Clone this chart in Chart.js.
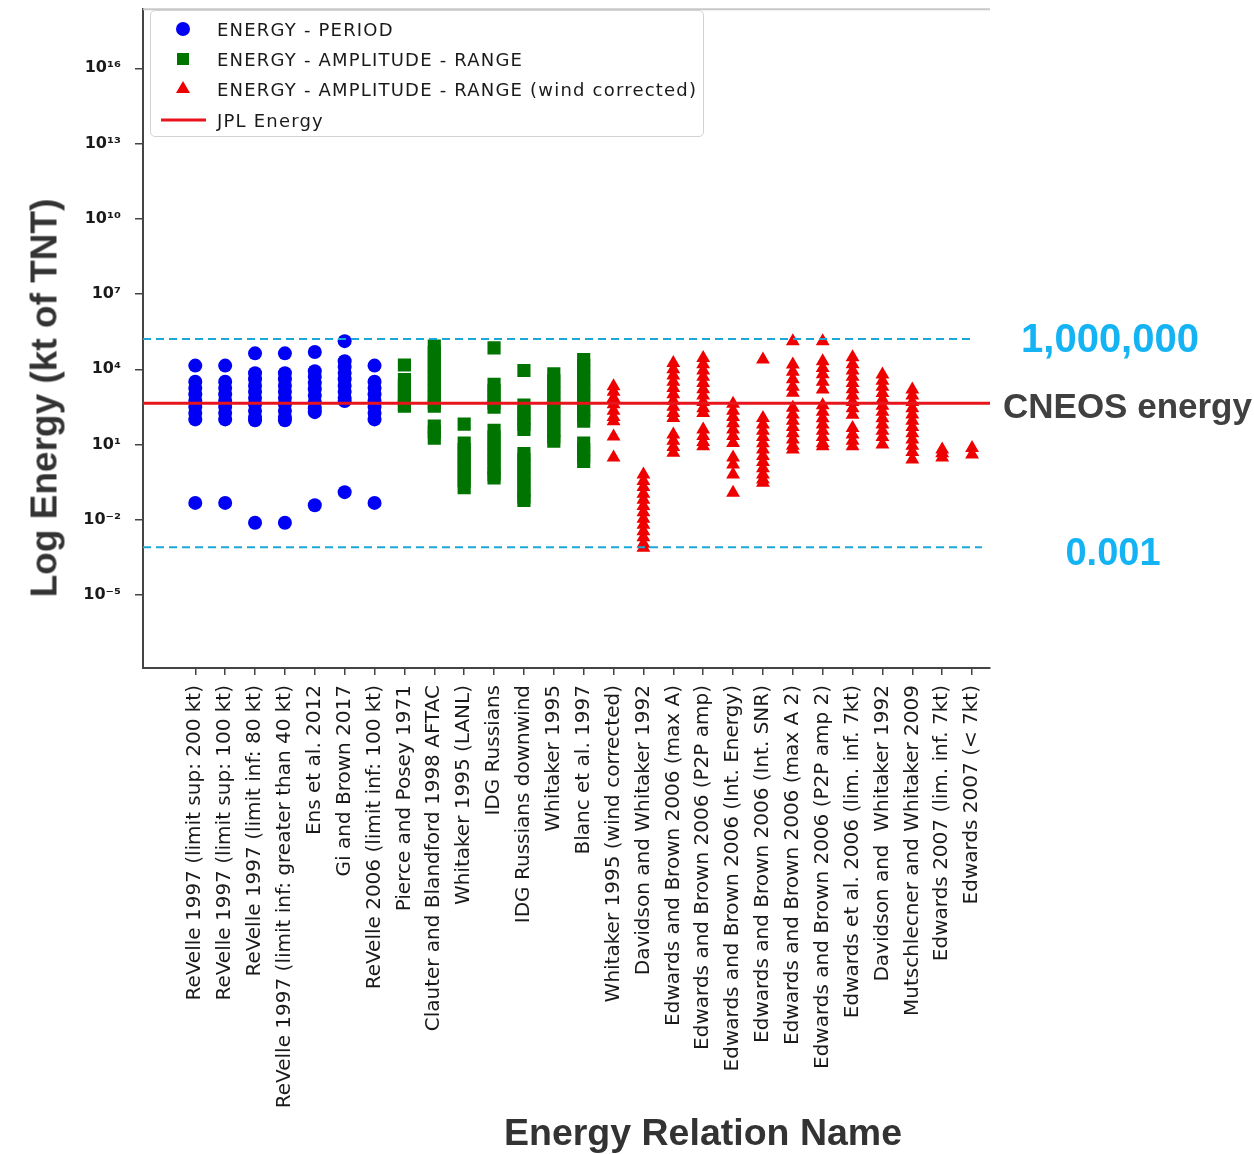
<!DOCTYPE html>
<html><head><meta charset="utf-8">
<script src="https://cdn.jsdelivr.net/npm/chart.js@4/dist/chart.umd.min.js"></script>
<style>
html,body{margin:0;padding:0;background:#fff;}
#wrap{position:relative;width:1254px;height:1154px;overflow:hidden;background:#fff;}
#c{position:absolute;left:0;top:0;}
.txt{position:absolute;white-space:nowrap;font-family:'Liberation Sans',Arial,sans-serif;font-weight:bold;line-height:1;}
#legend{position:absolute;left:150px;top:10px;width:554px;height:127px;border:1.5px solid #d2d2d2;border-radius:5px;background:rgba(255,255,255,0.92);font-family:'DejaVu Sans',sans-serif;font-size:18px;letter-spacing:1.2px;color:#1a1a1a;box-sizing:border-box;}
.li{position:absolute;left:0;height:30px;display:flex;align-items:center;white-space:nowrap;}
.li svg{width:60px;height:30px;flex:none;margin-left:6px;}
</style></head>
<body><div id="wrap"><canvas id="c" width="1254" height="1154"></canvas>
<div id="legend"></div>
<div class="txt" id="ytitle" style="left:44px;top:398px;font-size:37px;color:#333;transform:translate(-50%,-50%) rotate(-90deg);">Log Energy (kt of TNT)</div>
<div class="txt" id="xtitle" style="left:703px;top:1133px;font-size:37.5px;color:#333;transform:translate(-50%,-50%);">Energy Relation Name</div>
<div class="txt" id="a1" style="left:1110px;top:338px;font-size:40px;color:#14b4f4;transform:translate(-50%,-50%);">1,000,000</div>
<div class="txt" id="a2" style="left:1003px;top:405px;font-size:35px;color:#404040;transform:translate(0,-50%);">CNEOS energy</div>
<div class="txt" id="a3" style="left:1113px;top:552px;font-size:38px;color:#14b4f4;transform:translate(-50%,-50%);">0.001</div>
</div>
<script>
const categories = [
  'ReVelle 1997 (limit sup: 200 kt)',
  'ReVelle 1997 (limit sup: 100 kt)',
  'ReVelle 1997 (limit inf: 80 kt)',
  'ReVelle 1997 (limit inf: greater than 40 kt)',
  'Ens et al. 2012',
  'Gi and Brown 2017',
  'ReVelle 2006 (limit inf: 100 kt)',
  'Pierce and Posey 1971',
  'Clauter and Blandford 1998 AFTAC',
  'Whitaker 1995 (LANL)',
  'IDG Russians',
  'IDG Russians downwind',
  'Whitaker 1995',
  'Blanc et al. 1997',
  'Whitaker 1995 (wind corrected)',
  'Davidson and Whitaker 1992',
  'Edwards and Brown 2006 (max A)',
  'Edwards and Brown 2006 (P2P amp)',
  'Edwards and Brown 2006 (Int. Energy)',
  'Edwards and Brown 2006 (Int. SNR)',
  'Edwards and Brown 2006 (max A 2)',
  'Edwards and Brown 2006 (P2P amp 2)',
  'Edwards et al. 2006 (lim. inf. 7kt)',
  'Davidson and  Whitaker 1992',
  'Mutschlecner and Whitaker 2009',
  'Edwards 2007 (lim. inf. 7kt)',
  'Edwards 2007 (< 7kt)'
];

const seriesNames = ['ENERGY - PERIOD', 'ENERGY - AMPLITUDE - RANGE', 'ENERGY - AMPLITUDE - RANGE (wind corrected)', 'JPL Energy'];

// Energy (kt of TNT) per relation, ENERGY - PERIOD (blue circles)
const periodValues = [
  [14000, 3200, 1800, 1000, 560, 320, 180, 100, 0.047],
  [14000, 3200, 1800, 1000, 560, 320, 180, 100, 0.047],
  [43000, 6900, 4000, 2200, 1260, 710, 400, 220, 126, 93, 0.0076],
  [43000, 6900, 4000, 2200, 1260, 710, 400, 220, 126, 93, 0.0076],
  [49000, 8300, 5000, 2800, 1600, 890, 500, 280, 195, 0.038],
  [132000, 21000, 12600, 7100, 4000, 2200, 1260, 710, 540, 0.126],
  [14000, 3200, 1800, 1000, 560, 320, 180, 100, 0.047]
];

// ENERGY - AMPLITUDE - RANGE (green squares)
const amplitudeValues = [
  [14800, 3900, 2200, 1260, 710, 400, 340],
  [83000, 46000, 25000, 14000, 7900, 4500, 2500, 1400, 790, 450, 340, 54, 32, 18],
  [65, 11.5, 6.3, 3.5, 2.0, 1.12, 0.63, 0.35, 0.19],
  [71000, 2500, 1400, 790, 450, 310, 37, 20, 11.2, 6.3, 3.5, 2.0, 1.12, 0.63, 0.47],
  [8900, 370, 200, 112, 63, 40, 4.3, 2.5, 1.41, 0.79, 0.45, 0.25, 0.14, 0.079, 0.059],
  [6500, 3500, 2000, 1120, 630, 350, 200, 112, 63, 35, 20, 13.5],
  [24500, 14000, 7900, 4500, 2500, 1400, 790, 450, 250, 140, 85, 11.5, 6.3, 3.5, 2.1]
];

// ENERGY - AMPLITUDE - RANGE (wind corrected) (red triangles)
const windCorrectedValues = [
  [2100, 1260, 710, 400, 220, 126, 85, 21, 3.0],
  [0.63, 0.35, 0.2, 0.11, 0.063, 0.035, 0.02, 0.011, 0.0063, 0.0035, 0.002, 0.0011, 0.00076],
  [17800, 10000, 5600, 3200, 1800, 1000, 560, 320, 180, 115, 25, 14, 7.9, 4.7],
  [28000, 15800, 8900, 5000, 2800, 1600, 890, 500, 280, 180, 40, 22, 12.6, 8.5],
  [420, 220, 126, 71, 40, 22, 11.5, 3.0, 1.58, 0.63, 0.12],
  [24500, 115, 63, 35, 20, 11.2, 6.3, 3.5, 2.0, 1.12, 0.63, 0.4, 0.3],
  [132000, 15500, 7900, 4000, 2000, 1150, 290, 158, 89, 50, 28, 15.8, 8.9, 6.3],
  [132000, 21000, 11200, 6300, 3200, 1550, 370, 200, 112, 63, 35, 20, 11.2, 8.5],
  [30000, 15800, 8900, 5000, 2800, 1600, 890, 500, 280, 155, 46, 25, 14, 8.5],
  [6200, 3500, 2000, 1120, 630, 350, 200, 112, 63, 35, 20, 10],
  [1550, 890, 500, 280, 158, 89, 50, 28, 15.8, 8.9, 5.0, 2.5],
  [6.3, 4.5, 3.0],
  [7.2, 4.0]
];

const jplEnergy = 440;          // red line (CNEOS energy)
const upperMarker = 1.6e5;      // dashed line annotated "1,000,000"
const lowerMarker = 8.1e-4;     // dashed line annotated "0.001"
const yTickValues = [1e-5, 1e-2, 1e1, 1e4, 1e7, 1e10, 1e13, 1e16];
const yTickLabels = ['10⁻⁵', '10⁻²', '10¹', '10⁴', '10⁷', '10¹⁰', '10¹³', '10¹⁶'];
const yMin = 1.23e-8, yMax = 2.24e18;

const colors = {period: '#0000f5', amp: '#007400', wind: '#ee0000', jpl: '#e8141c', dash: '#1aa8d6'};

function toPoints(groups, startIndex) {
  const pts = [];
  groups.forEach((vals, gi) => vals.forEach(v => pts.push({x: startIndex + gi, y: v})));
  return pts;
}
const ampStart = periodValues.length;
const windStart = ampStart + amplitudeValues.length;
const xMin = -1.75, xMax = 26.6;

const datasets = [
  {label: seriesNames[0], type: 'scatter', data: toPoints(periodValues, 0), pointStyle: 'circle', pointRadius: 7,
   backgroundColor: colors.period, borderColor: colors.period, borderWidth: 0, order: 3},
  {label: seriesNames[1], type: 'scatter', data: toPoints(amplitudeValues, ampStart), pointStyle: 'rect', pointRadius: 9.3,
   backgroundColor: colors.amp, borderColor: colors.amp, borderWidth: 0, order: 2},
  {label: seriesNames[2], type: 'scatter', data: toPoints(windCorrectedValues, windStart), pointStyle: 'triangle', pointRadius: 8,
   backgroundColor: colors.wind, borderColor: colors.wind, borderWidth: 0, order: 1},
  {label: seriesNames[3], type: 'line', data: [{x: xMin, y: jplEnergy}, {x: xMax, y: jplEnergy}],
   borderColor: colors.jpl, borderWidth: 3, pointRadius: 0, fill: false, order: -1},
  {label: 'upper', type: 'line', data: [{x: xMin, y: upperMarker}, {x: categories.length - 1, y: upperMarker}],
   borderColor: colors.dash, borderWidth: 2, borderDash: [8, 5], pointRadius: 0, fill: false, order: -2},
  {label: 'lower', type: 'line', data: [{x: xMin, y: lowerMarker}, {x: categories.length - 0.67, y: lowerMarker}],
   borderColor: colors.dash, borderWidth: 2, borderDash: [8, 5], pointRadius: 0, fill: false, order: -2}
];

const topLine = {
  id: 'topLine',
  afterDraw(chart) {
    const a = chart.chartArea, ctx = chart.ctx;
    ctx.save();
    ctx.strokeStyle = '#c8c8c8'; ctx.lineWidth = 2;
    ctx.beginPath(); ctx.moveTo(a.left, a.top); ctx.lineTo(a.right, a.top); ctx.stroke();
    ctx.restore();
  }
};

function zeroPad(s) { s.paddingTop = 0; s.paddingBottom = 0; s.paddingLeft = 0; s.paddingRight = 0; }

Chart.defaults.font.family = "'DejaVu Sans', sans-serif";
const chart = new Chart(document.getElementById('c'), {
  type: 'scatter',
  data: {datasets},
  options: {
    responsive: false, animation: false,
    layout: {padding: {top: 3, right: 264, left: 0, bottom: 0}},
    plugins: {legend: {display: false}, tooltip: {enabled: false}},
    scales: {
      x: {
        type: 'linear', min: xMin, max: xMax,
        afterBuildTicks: s => { s.ticks = categories.map((_, i) => ({value: i})); },
        afterFit: s => { s.height = 486; zeroPad(s); },
        grid: {display: true, drawOnChartArea: false, drawTicks: true, tickLength: 7, color: '#444', lineWidth: 1.5},
        border: {color: '#444', width: 2},
        ticks: {autoSkip: false, minRotation: 90, maxRotation: 90, padding: 10, color: '#1a1a1a',
                font: {size: 20}, callback: v => categories[v] ?? ''}
      },
      y: {
        type: 'logarithmic', min: yMin, max: yMax,
        afterBuildTicks: s => { s.ticks = yTickValues.map(v => ({value: v})); },
        afterFit: s => { s.width = 143; zeroPad(s); },
        grid: {display: true, drawOnChartArea: false, drawTicks: true, tickLength: 8, color: '#444', lineWidth: 1.5},
        border: {color: '#444', width: 2},
        ticks: {padding: 14, color: '#1a1a1a', font: {size: 16, weight: 'bold', lineHeight: 0.2},
                callback: v => { const i = yTickValues.indexOf(v); return i >= 0 ? yTickLabels[i] : ''; }}
      }
    }
  },
  plugins: [topLine]
});

// HTML legend built from the dataset names
const legend = document.getElementById('legend');
const markerSvg = [
  `<svg viewBox="0 0 60 30"><circle cx="26" cy="15" r="7" fill="${colors.period}"/></svg>`,
  `<svg viewBox="0 0 60 30"><rect x="20" y="9" width="12" height="12" fill="${colors.amp}"/></svg>`,
  `<svg viewBox="0 0 60 30"><polygon points="26,7 33,19 19,19" fill="${colors.wind}"/></svg>`,
  `<svg viewBox="0 0 60 30"><line x1="4" y1="15" x2="49" y2="15" stroke="${colors.jpl}" stroke-width="3"/></svg>`
];
const rowTops = [3, 33, 63, 94];
seriesNames.forEach((name, i) => {
  const row = document.createElement('div');
  row.className = 'li';
  row.style.top = rowTops[i] + 'px';
  row.innerHTML = markerSvg[i] + '<span>' + name + '</span>';
  legend.appendChild(row);
});
</script>
</body></html>
